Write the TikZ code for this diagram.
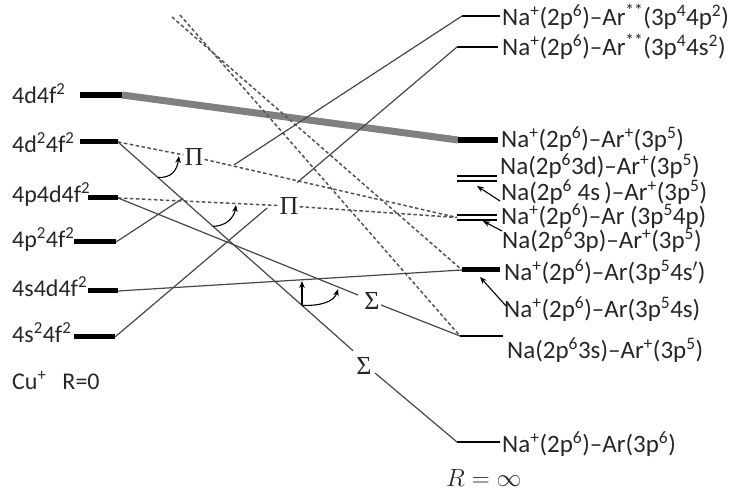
\documentclass[tikz,border=0pt]{standalone}
\usepackage{fontspec}
\setmainfont{Carlito}
\newfontfamily\grkfont{Liberation Serif}
\usepackage{graphicx}
\usetikzlibrary{arrows.meta}
\newcommand\sps[1]{\textsuperscript{#1}}
\begin{document}
\begin{tikzpicture}[x=1pt,y=-1pt,
  bar/.style={line width=5pt,black},
  lev/.style={line width=1.5pt,black},
  conn/.style={line width=1.2pt,draw=black!72},
  dconn/.style={line width=1.5pt,draw=black!68,dash pattern=on 3.5pt off 2.5pt},
  lab/.style={font=\fontsize{25}{25}\selectfont,text=black!85,inner sep=0pt,anchor=base west},
  llab/.style={font=\fontsize{24}{24}\selectfont,text=black!85,inner sep=0pt,anchor=base west},
  greek/.style={font=\grkfont\fontsize{26}{26}\selectfont,text=black!85,inner sep=1pt},
  arr/.style={-{Stealth[length=7pt,width=5.5pt]},line width=1.1pt,black}
]
\useasboundingbox (0,0) rectangle (732,494);
% ---- left levels
\coordinate (l1a) at (80,95);  \coordinate (l1b) at (122,95);
\coordinate (l2a) at (80,142); \coordinate (l2b) at (118,142);
\coordinate (l3a) at (88,198); \coordinate (l3b) at (118,198);
\coordinate (l4a) at (74,242); \coordinate (l4b) at (116,242);
\coordinate (l5a) at (88,291); \coordinate (l5b) at (118,291);
\coordinate (l6a) at (74,337); \coordinate (l6b) at (115,337);
% ---- right levels
\coordinate (r1a) at (462,16);  \coordinate (r1b) at (500,16);
\coordinate (r2a) at (457,47);  \coordinate (r2b) at (498,47);
\coordinate (r3a) at (458,140); \coordinate (r3b) at (498,140);
\coordinate (r4a) at (457,176); \coordinate (r4b) at (497,176);
\coordinate (r4c) at (457,181); \coordinate (r4d) at (497,181);
\coordinate (r5a) at (457,215); \coordinate (r5b) at (497,215);
\coordinate (r5c) at (457,220); \coordinate (r5d) at (497,220);
\coordinate (r5m) at (457,217.5);
\coordinate (r6a) at (462,270); \coordinate (r6b) at (500,270);
\coordinate (r7a) at (460,336); \coordinate (r7b) at (503,336);
\coordinate (r8a) at (457,442); \coordinate (r8b) at (500,442);

% grey thick connector
\draw[line width=7pt,black!50] (l1b) -- (r3a);

% bars
\draw[bar,line width=6.5pt] (l1a) -- (l1b);
\draw[bar] (l2a) -- (l2b);
\draw[bar] (l3a) -- (l3b);
\draw[bar] (l4a) -- (l4b);
\draw[bar] (l5a) -- (l5b);
\draw[bar] (l6a) -- (l6b);
\draw[lev] (r1a) -- (r1b);
\draw[lev] (r2a) -- (r2b);
\draw[bar,line width=6pt] (r3a) -- (r3b);
\draw[lev] (r4a) -- (r4b);
\draw[lev] (r4c) -- (r4d);
\draw[lev] (r5a) -- (r5b);
\draw[lev] (r5c) -- (r5d);
\draw[bar] (r6a) -- (r6b);
\draw[lev] (r7a) -- (r7b);
\draw[lev] (r8a) -- (r8b);

% left labels
\node[llab] (t1) at (12,104) {4d4f\sps{2}};
\node[llab] (t2) at (12,153) {4d\sps{2}4f\sps{2}};
\node[llab] (t3) at (12,203) {4p4d4f\sps{2}};
\node[llab] (t4) at (12,248) {4p\sps{2}4f\sps{2}};
\node[llab] (t5) at (12,297) {4s4d4f\sps{2}};
\node[llab] (t6) at (12,343) {4s\sps{2}4f\sps{2}};
\node[llab] (cu) at (12,390) {Cu\sps{+}\hspace{16pt}R=0};

% right labels
\node[lab] (u1) at (502,26) {Na\sps{+}(2p\sps{6})--Ar\sps{**}(3p\sps{4}4p\sps{2})};
\node[lab] (u2) at (502,56) {Na\sps{+}(2p\sps{6})--Ar\sps{**}(3p\sps{4}4s\sps{2})};
\node[lab] (u3) at (501,148) {Na\sps{+}(2p\sps{6})--Ar\sps{+}(3p\sps{5})};
\node[lab] (u4) at (500,175) {Na(2p\sps{6}3d)--Ar\sps{+}(3p\sps{5})};
\node[lab] (u5) at (501,201) {Na(2p\sps{6} 4s\,)--Ar\sps{+}(3p\sps{5})};
\node[lab] (u6) at (501,225) {Na\sps{+}(2p\sps{6})--Ar (3p\sps{5}4p)};
\node[lab] (u7) at (502,249) {Na(2p\sps{6}3p)--Ar\sps{+}(3p\sps{5})};
\node[lab] (u8) at (504,281) {Na\sps{+}(2p\sps{6})--Ar(3p\sps{5}4s$'$)};
\node[lab] (u9) at (504,318) {Na\sps{+}(2p\sps{6})--Ar(3p\sps{5}4s)};
\node[lab] (u10) at (507,359) {Na(2p\sps{6}3s)--Ar\sps{+}(3p\sps{5})};
\node[lab] (u11) at (502,453) {Na\sps{+}(2p\sps{6})--Ar(3p\sps{6})};
\node[font=\fontsize{23}{23}\selectfont,text=black!85,anchor=base west,inner sep=0pt] (rinf) at (446,487) {$R=\infty$};

% Greek labels
\node[greek] (P1) at (194,157) {Π};
\node[greek] (P2) at (289,206) {Π};
\node[greek] (S1) at (372,301) {Σ};
\node[greek] (S2) at (364,366) {Σ};

% dashed connectors
\draw[dconn] (l2b) -- (P1);
\draw[dconn] (P1) -- (r5m);
\draw[dconn] (l3b) -- (P2);
\draw[dconn] (P2) -- (r5m);
\coordinate (d1) at (172,17);
\coordinate (d2) at (180,15);
\draw[dconn] (d1) -- (r6a);
\draw[dconn] (d2) -- (r7a);

% solid connectors
\coordinate (s2in) at (353,350.7);
\coordinate (s2out) at (375,373);
\draw[conn] (l2b) -- (s2in);
\draw[conn] (s2out) -- (r8a);
\coordinate (s1in) at (358,295);
\coordinate (s1out) at (381,305);
\draw[conn] (l3b) -- (s1in);
\draw[conn] (s1out) -- (r7a);
\draw[conn] (l5b) -- (r6a);
\coordinate (g1) at (183,198.2);
\coordinate (g2) at (234,164.9);
\draw[conn] (l4b) -- (g1);
\draw[conn] (g2) -- (r1a);
\coordinate (g3) at (267,208.1);
\coordinate (g4) at (297,182.7);
\draw[conn] (l6b) -- (g3);
\draw[conn] (g4) -- (r2a);

% curved arrows
\coordinate (c1) at (158,177.5);
\coordinate (c1t) at (179,156);
\draw[arr] (c1) .. controls (172,178) and (177,170) .. (c1t);
\coordinate (c2) at (213,226.4);
\coordinate (c2t) at (236,205);
\draw[arr] (c2) .. controls (226,226) and (234,218) .. (c2t);
\coordinate (c3) at (302,305.4);
\coordinate (c3t) at (302,281);
\coordinate (c4t) at (338,289);
\draw[arr] (c3) -- (c3t);
\draw[arr] (c3) .. controls (320,306) and (334,302) .. (c4t);

% right arrows
\coordinate (e1) at (500,201); \coordinate (e1t) at (477,186);
\coordinate (e2) at (502,231); \coordinate (e2t) at (483,221);
\coordinate (e3) at (506,306); \coordinate (e3t) at (480,277);
\draw[arr] (e1) -- (e1t);
\draw[arr] (e2) -- (e2t);
\draw[arr] (e3) -- (e3t);
\end{tikzpicture}
\end{document}
